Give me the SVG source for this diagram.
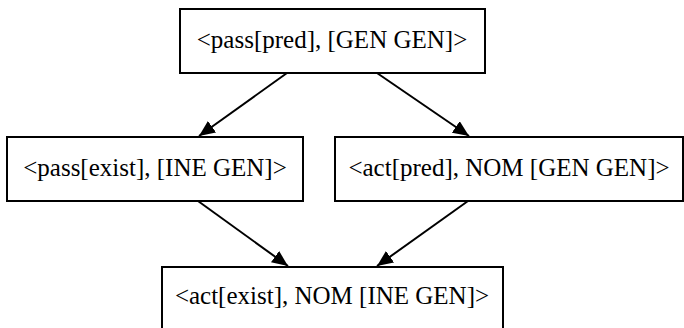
<svg xmlns="http://www.w3.org/2000/svg" width="684" height="328" viewBox="0 0 684 328">
<style>
.box{fill:#fff;stroke:#000;stroke-width:2}
.lbl{font-family:"Liberation Serif","Times New Roman",serif;font-size:25px;fill:#000;text-anchor:middle}
.edge{stroke:#000;stroke-width:2;fill:none;marker-end:url(#ah)}
</style>
<defs>
<marker id="ah" markerUnits="userSpaceOnUse" markerWidth="16" markerHeight="14" refX="16" refY="7" orient="auto">
<path d="M0,0 L16,7 L0,14 z" fill="#000"/>
</marker>
</defs>
<rect width="684" height="328" fill="#fff"/>
<g id="edges">
<line class="edge" x1="287" y1="73" x2="199" y2="136"/>
<line class="edge" x1="377" y1="73" x2="469" y2="136"/>
<line class="edge" x1="198" y1="201" x2="288" y2="266"/>
<line class="edge" x1="468" y1="201" x2="377" y2="266"/>
</g>
<g id="n1">
<rect class="box" x="180" y="9" width="305" height="64"/>
<text class="lbl" x="332" y="48">&lt;pass[pred], [GEN GEN]&gt;</text>
</g>
<g id="n2">
<rect class="box" x="7" y="137" width="296" height="64"/>
<text class="lbl" x="155" y="176">&lt;pass[exist], [INE GEN]&gt;</text>
</g>
<g id="n3">
<rect class="box" x="335" y="137" width="348" height="64"/>
<text class="lbl" x="509" y="176">&lt;act[pred], NOM [GEN GEN]&gt;</text>
</g>
<g id="n4">
<rect class="box" x="162" y="267" width="341" height="64"/>
<text class="lbl" x="332" y="304">&lt;act[exist], NOM [INE GEN]&gt;</text>
</g>
</svg>
